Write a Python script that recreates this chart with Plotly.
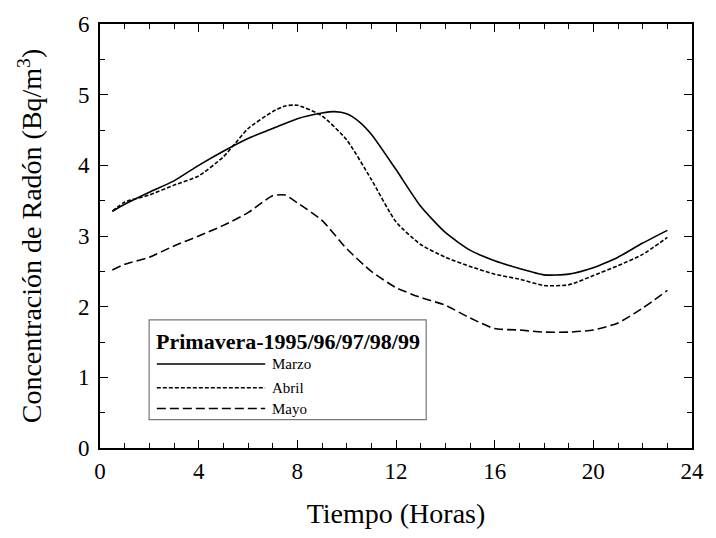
import plotly.graph_objects as go

# Hourly mean radon concentration, spring 1995-1999
horas = [0.5, 1, 2, 3, 4, 5, 6, 7, 8, 9, 9.5, 10, 10.5, 11, 12, 13, 14, 15, 16, 17, 18, 19, 20, 20.5, 21, 22, 23]
marzo = [3.35, 3.45, 3.62, 3.78, 4.0, 4.2, 4.38, 4.52, 4.66, 4.74, 4.76, 4.73, 4.62, 4.44, 3.94, 3.42, 3.05, 2.8, 2.65, 2.54, 2.45, 2.46, 2.55, 2.62, 2.7, 2.9, 3.08]

horas_abril = [0.5, 1, 2, 3, 4, 5, 5.5, 6, 7, 7.5, 8, 9, 10, 11, 12, 13, 14, 15, 16, 17, 18, 19, 20, 21, 22, 23]
abril = [3.35, 3.48, 3.58, 3.72, 3.85, 4.12, 4.32, 4.52, 4.76, 4.84, 4.85, 4.7, 4.36, 3.8, 3.2, 2.88, 2.7, 2.57, 2.46, 2.39, 2.3, 2.31, 2.44, 2.58, 2.74, 2.98]

horas_mayo = [0.5, 1, 2, 3, 4, 5, 6, 7, 7.5, 8, 9, 10, 11, 12, 13, 14, 15, 16, 17, 18, 19, 20, 21, 22, 23]
mayo = [2.52, 2.6, 2.7, 2.86, 3.0, 3.15, 3.33, 3.57, 3.58, 3.47, 3.22, 2.82, 2.5, 2.27, 2.13, 2.02, 1.84, 1.69, 1.67, 1.64, 1.64, 1.67, 1.77, 1.98, 2.23]

x_ticks = [0, 4, 8, 12, 16, 20, 24]
y_ticks = [0, 1, 2, 3, 4, 5, 6]

titulo_leyenda = "Primavera-1995/96/97/98/99"
series = [
    ("Marzo", horas, marzo, "solid"),
    ("Abril", horas_abril, abril, "4px,2px"),
    ("Mayo", horas_mayo, mayo, "9px,4px"),
]

FONT = "Liberation Serif"

fig = go.Figure()
for nombre, xs, ys, dash in series:
    fig.add_trace(go.Scatter(
        x=xs, y=ys, name=nombre, mode="lines",
        line=dict(color="black", width=1.6, dash=dash, shape="spline", smoothing=0.6),
        showlegend=False,
    ))

# Legend box drawn in paper coordinates
lx0, lx1, ly0, ly1 = 0.083, 0.551, 0.067, 0.302
fig.add_shape(type="rect", xref="paper", yref="paper", x0=lx0, x1=lx1, y0=ly0, y1=ly1,
              line=dict(color="#777777", width=1.2), fillcolor="white", layer="above")
fig.add_annotation(xref="paper", yref="paper", x=0.094, y=0.251, text=f"<b>{titulo_leyenda}</b>",
                   showarrow=False, xanchor="left", yanchor="middle", xshift=-2,
                   font=dict(family=FONT, size=22, color="black"))
rows = [0.198, 0.142, 0.093]
for (nombre, _, _, dash), yy in zip(series, rows):
    fig.add_shape(type="line", xref="paper", yref="paper", x0=0.096, x1=0.279, y0=yy, y1=yy,
                  line=dict(color="black", width=1.4, dash=dash), layer="above")
    fig.add_annotation(xref="paper", yref="paper", x=0.291, y=yy, text=nombre, showarrow=False,
                       xanchor="left", yanchor="middle", xshift=-2,
                       font=dict(family=FONT, size=15, color="black"))

axis_common = dict(
    showgrid=False, zeroline=False, showline=True, linecolor="black", linewidth=1.6,
    mirror="ticks", ticks="inside", ticklen=8, tickwidth=1.3, tickcolor="black",
)

fig.update_xaxes(
    range=[0, 24], tickvals=x_ticks, ticktext=[str(v) for v in x_ticks],
    tickfont=dict(family=FONT, size=23, color="black"), ticklabelstandoff=2,
    minor=dict(ticks="inside", dtick=1, tick0=0, ticklen=5, tickwidth=1.1, tickcolor="black"),
    title=dict(text="Tiempo (Horas)", font=dict(family=FONT, size=28, color="black"), standoff=20),
    **axis_common,
)
fig.update_yaxes(
    range=[0, 6], tickvals=y_ticks, ticktext=[str(v) for v in y_ticks],
    tickfont=dict(family=FONT, size=23, color="black"), ticklabelstandoff=4,
    minor=dict(ticks="inside", dtick=0.5, tick0=0, ticklen=5, tickwidth=1.1, tickcolor="black"),
    title=dict(text="Concentración de Radón (Bq/m<sup>3</sup>)", font=dict(family=FONT, size=28, color="black"), standoff=28),
    **axis_common,
)

fig.update_layout(
    width=716, height=538,
    margin=dict(l=100, r=14, t=18, b=90),
    paper_bgcolor="white", plot_bgcolor="white",
    font=dict(family=FONT, color="black"),
)

fig.write_html("out.html")
